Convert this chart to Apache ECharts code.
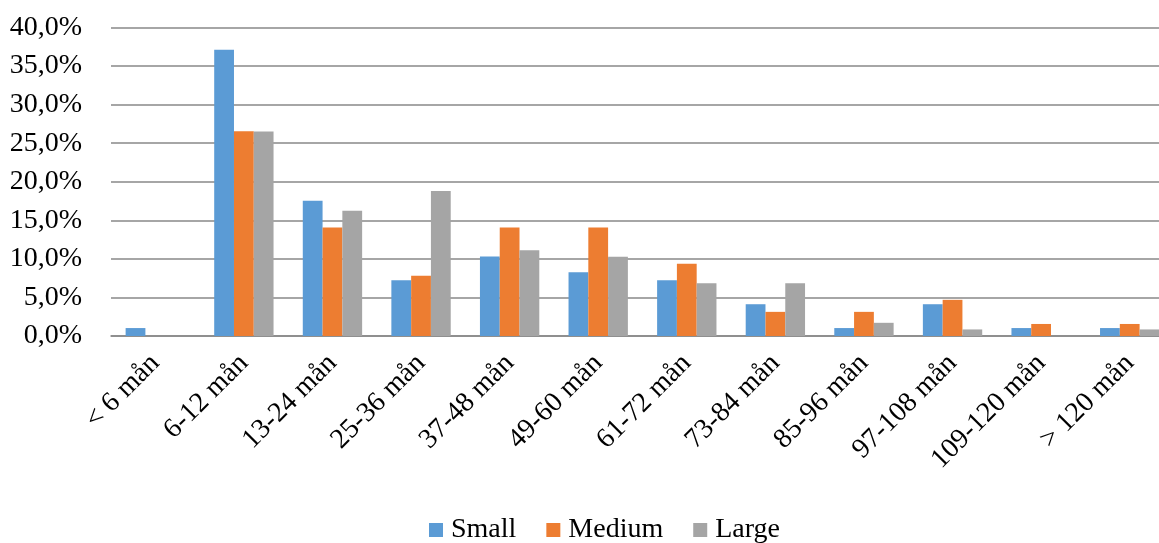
<!DOCTYPE html>
<html>
<head>
<meta charset="utf-8">
<script src="https://cdn.jsdelivr.net/npm/echarts@6/dist/echarts.min.js"></script>
<style>
  html, body { margin: 0; padding: 0; background: #fff; }
  #chart { width: 1159px; height: 543px; }
</style>
</head>
<body>
<div id="chart"></div>
<script>
// Share of companies per age bracket (months), by company size
const categories = ['< 6 mån', '6-12 mån', '13-24 mån', '25-36 mån', '37-48 mån', '49-60 mån',
  '61-72 mån', '73-84 mån', '85-96 mån', '97-108 mån', '109-120 mån', '> 120 mån'];
const small  = [1.03, 37.11, 17.53, 7.22, 10.31, 8.25, 7.22, 4.12, 1.03, 4.12, 1.03, 1.03];
const medium = [0, 26.56, 14.06, 7.81, 14.06, 14.06, 9.38, 3.13, 3.13, 4.69, 1.56, 1.56];
const large  = [0, 26.50, 16.24, 18.80, 11.11, 10.26, 6.84, 6.84, 1.71, 0.85, 0, 0.85];
const seriesNames = ['Small', 'Medium', 'Large'];
const colors = ['#5B9BD5', '#ED7D31', '#A5A5A5'];

const font = '"Liberation Serif", "Times New Roman", serif';
const chart = echarts.init(document.getElementById('chart'));

const mkSeries = (name, data, color) => ({
  name, type: 'bar', data,
  itemStyle: { color },
  barGap: '0%', barCategoryGap: '33%'
});

chart.setOption({
  animation: false,
  textStyle: { fontFamily: font },
  color: colors,
  // the plot runs slightly past the right edge of the canvas
  grid: { left: 111, width: 1063, top: 27.5, bottom: 207, containLabel: false, outerBoundsMode: 'none' },
  legend: {
    bottom: -6, left: 424,
    itemWidth: 14, itemHeight: 14, itemGap: 30,
    icon: 'rect',
    textStyle: { fontFamily: font, fontSize: 28, color: '#000', padding: [0, 0, 0, 3] },
    data: seriesNames
  },
  xAxis: {
    type: 'category',
    data: categories,
    axisLine: { lineStyle: { color: '#888', width: 1.5 } },
    axisTick: { show: false },
    axisLabel: {
      rotate: 45, interval: 0, margin: 23,
      fontFamily: font, fontSize: 28, color: '#000'
    }
  },
  yAxis: {
    type: 'value', min: 0, max: 40, interval: 5,
    axisLine: { show: false },
    axisTick: { show: false },
    splitLine: { lineStyle: { color: '#888', width: 1.5 } },
    axisLabel: {
      margin: 29, fontFamily: font, fontSize: 28, color: '#000',
      formatter: v => v.toFixed(1).replace('.', ',') + '%'
    }
  },
  series: [
    mkSeries(seriesNames[0], small, colors[0]),
    mkSeries(seriesNames[1], medium, colors[1]),
    mkSeries(seriesNames[2], large, colors[2])
  ]
});
</script>
</body>
</html>
